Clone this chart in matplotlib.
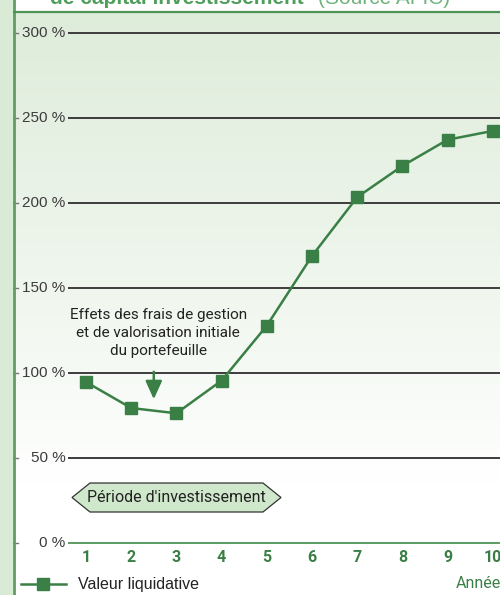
import numpy as np
import matplotlib
matplotlib.use("Agg")
import matplotlib.pyplot as plt
from matplotlib.patches import Rectangle, Polygon
from matplotlib import font_manager

# data
annees = [1, 2, 3, 4, 5, 6, 7, 8, 9, 10]
valeur_liquidative = [94.7, 79.4, 76.3, 95.5, 127.8, 168.8, 203.4, 221.8, 237.2, 242.4]
niveaux_y = [0, 50, 100, 150, 200, 250, 300]
labels_y = ["0 %", "50 %", "100 %", "150 %", "200 %", "250 %", "300 %"]

VERT = "#3a7f45"
VERT_CLAIR = "#d9ebd5"
GRIS = "#3c3c3c"

names = {f.name for f in font_manager.fontManager.ttflist}
NARROW = "Liberation Sans Narrow" if "Liberation Sans Narrow" in names else "Roboto"
plt.rcParams['font.family'] = ['Liberation Sans', 'DejaVu Sans']

fig = plt.figure(figsize=(5, 5.95), dpi=100)
fig.patch.set_facecolor("white")

# left light strip (figure pixels)
W, H = 500, 595
fig.patches.append(Rectangle((0, 0), 13 / W, 1, transform=fig.transFigure,
                             facecolor=VERT_CLAIR, edgecolor="none", zorder=0))

ax = fig.add_axes([13 / W, 0, 487 / W, (H - 12) / H])
ax.set_axis_off()
ppx = (492.7 - 86) / 9
x0 = 1 - (86 - 13) / ppx
x1 = 1 + (500 - 86) / ppx
ax.set_xlim(x0, x1)
ax.set_ylim((543 - 595) / 1.7, (543 - 12) / 1.7)

# background gradient
grad = np.linspace(0, 1, 256).reshape(-1, 1)
top = np.array([222, 236, 218]) / 255
bot = np.array([255, 255, 255]) / 255
img = bot + (top - bot) * grad[::-1] ** 0.9
img = np.repeat(img[:, None, :], 2, axis=1)
ax.imshow(img, extent=[x0, x1, 35, (543 - 12) / 1.7], aspect="auto", zorder=0,
          origin="upper")

# gridlines + labels + small ticks
for v, lab in zip(niveaux_y, labels_y):
    col = "#5c9c63" if v == 0 else GRIS
    ax.plot([0.6, x1], [v, v], color=col, lw=1.4, zorder=1, solid_capstyle="butt")
    ax.plot([x0, x0 + 5 / ppx], [v, v], color="#777777", lw=1, zorder=1)
    ax.text(0.55, v, lab, ha="right", va="center", fontsize=11, color=GRIS)

# frame lines
ax.plot([x0 + 1 / ppx, x0 + 1 / ppx], [-40, 320], color="#5e9e66", lw=2, zorder=3, clip_on=False)
ax.plot([x0, x1], [312.2, 312.2], color="#4c9356", lw=1.6, zorder=3, clip_on=False)

# series
ax.plot(annees, valeur_liquidative, color=VERT, lw=1.8, marker="s", ms=8.5,
        markerfacecolor=VERT, markeredgecolor=VERT, zorder=4)

# x tick labels
for a in annees:
    ax.text(a, (543 - 558) / 1.7, str(a), ha="center", va="center", fontsize=11.5,
            fontweight="bold", color=VERT, family=NARROW)
ax.text(x1 + 0.02, (543 - 584) / 1.7, "Année", ha="right", va="center", fontsize=11.5,
        color=VERT, family=NARROW)

# annotation
ax.text(2.6, (543 - 333) / 1.7,
        "Effets des frais de gestion\net de valorisation initiale\ndu portefeuille",
        ha="center", va="center", fontsize=11, color="#222222", family=NARROW,
        linespacing=1.35)
ax.annotate("", xy=(2.5, (543 - 402) / 1.7), xytext=(2.5, (543 - 369) / 1.7),
            arrowprops=dict(arrowstyle="-|>,head_width=0.5,head_length=1.1",
                            color=VERT, lw=1.8), zorder=4)

# période d'investissement
yc = (543 - 497.5) / 1.7
hh = 14.5 / 1.7
xl = 1 + (72 - 86) / ppx
xr = 1 + (281 - 86) / ppx
dx = 18 / ppx
hexa = Polygon([(xl, yc), (xl + dx, yc + hh), (xr - dx, yc + hh), (xr, yc),
                (xr - dx, yc - hh), (xl + dx, yc - hh)], closed=True,
               facecolor="#cfe8cb", edgecolor="#333333", lw=0.9, zorder=3)
ax.add_patch(hexa)
ax.text((xl + xr) / 2, yc, "Période d'investissement", ha="center", va="center",
        fontsize=11.5, color="#222222", family=NARROW, zorder=4)

# legend
ly = (543 - 584) / 1.7
lxa = x0 + (21 - 13) / ppx
lxb = x0 + (66 - 13) / ppx
ax.plot([lxa, lxb], [ly, ly], color=VERT, lw=1.8, clip_on=False)
ax.plot([(lxa + lxb) / 2], [ly], marker="s", ms=8, color=VERT, clip_on=False)
ax.text(x0 + (78 - 13) / ppx, ly, "Valeur liquidative", ha="left", va="center",
        fontsize=11.5, color="#222222")

# title, cut off at the top edge as in the source
fig.text(50 / W, 1 - 4 / H, "de capital investissement", ha="left", va="baseline",
         fontsize=15, fontweight="bold", color="#4f9e5b")
fig.text(318 / W, 1 - 4 / H, "(Source AFIC)", ha="left", va="baseline",
         fontsize=15, color="#6fb27a")

fig.savefig("out.png", dpi=100)
